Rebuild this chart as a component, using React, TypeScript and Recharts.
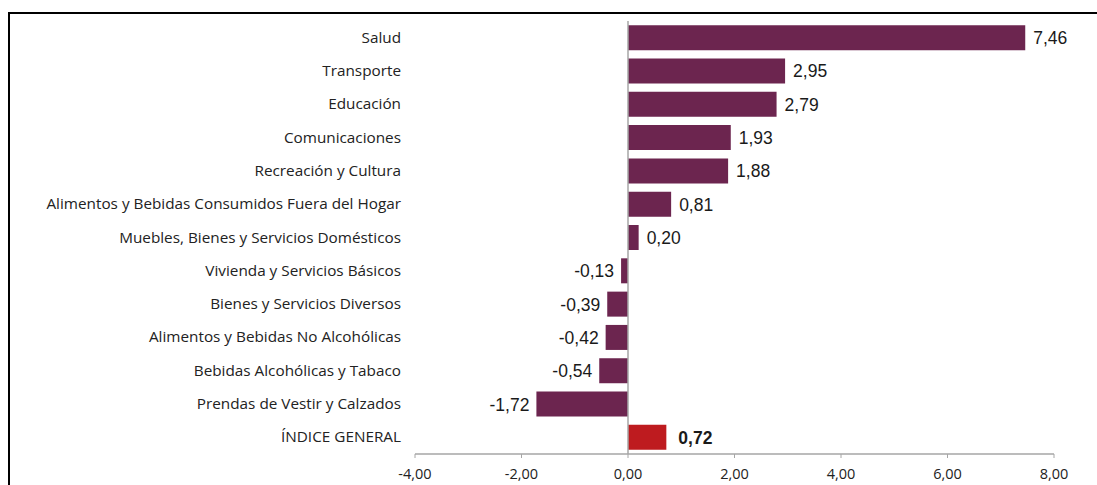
import React from "react";
import { BarChart, Bar, XAxis, YAxis, Cell, LabelList, ReferenceLine } from "recharts";

const categories = [
  "Salud",
  "Transporte",
  "Educación",
  "Comunicaciones",
  "Recreación y Cultura",
  "Alimentos y Bebidas Consumidos Fuera del Hogar",
  "Muebles, Bienes y Servicios Domésticos",
  "Vivienda y Servicios Básicos",
  "Bienes y Servicios Diversos",
  "Alimentos y Bebidas No Alcohólicas",
  "Bebidas Alcohólicas y Tabaco",
  "Prendas de Vestir y Calzados",
  "ÍNDICE GENERAL",
];
const values = [7.46, 2.95, 2.79, 1.93, 1.88, 0.81, 0.2, -0.13, -0.39, -0.42, -0.54, -1.72, 0.72];
const xTicks = [-4, -2, 0, 2, 4, 6, 8];

const data = categories.map((name, i) => ({ name, value: values[i] }));

const BAR = "#6C254F";
const TOTAL = "#BE1B1F";
const fmt = (v: number) => v.toFixed(2).replace(".", ",");

const CatTick = (props: any) => {
  const { x, y, payload } = props;
  return (
    <text x={x} y={y} dy={5} textAnchor="end" fontFamily="'Open Sans', sans-serif" fontSize={15.3} fill="#222">
      {payload.value}
    </text>
  );
};

const ValueLabel = (props: any) => {
  const { x, y, width, height, value, index } = props;
  const left = Math.min(x, x + width);
  const right = Math.max(x, x + width);
  const isTotal = index === categories.length - 1;
  const neg = value < 0;
  const tx = neg ? left - 7 : right + (isTotal ? 12 : 8);
  return (
    <text
      x={tx}
      y={y + height / 2}
      dy={6.5}
      textAnchor={neg ? "end" : "start"}
      fontFamily="'Liberation Sans', Arial, sans-serif"
      fontSize={17.5}
      fontWeight={isTotal ? "bold" : "normal"}
      fill="#1a1a1a"
    >
      {fmt(value)}
    </text>
  );
};

export default function App() {
  return (
    <div style={{ position: "absolute", left: 0, top: 0, width: 1097, height: 485, overflow: "hidden", background: "#fff" }}>
      <div
        style={{
          position: "absolute",
          left: 8,
          top: 12,
          width: 1089,
          height: 473,
          borderTop: "2px solid #000",
          borderLeft: "2px solid #000",
          boxSizing: "border-box",
        }}
      />
      <div style={{ position: "absolute", left: 0, top: 0 }}>
        <BarChart
          width={1097}
          height={485}
          data={data}
          layout="vertical"
          margin={{ top: 21, right: 43, bottom: 0, left: 15 }}
          barCategoryGap="12.5%"
        >
          <XAxis
            type="number"
            domain={[-4, 8]}
            ticks={xTicks}
            tickFormatter={(v: number) => fmt(v)}
            axisLine={{ stroke: "#a6a6a6", strokeWidth: 1.5 }}
            tickLine={{ stroke: "#a6a6a6" }}
            tickSize={4}
            tickMargin={11}
            height={31}
            tick={{ fontFamily: "'Open Sans', sans-serif", fontSize: 14.5, fill: "#222" }}
            allowDataOverflow
          />
          <YAxis
            type="category"
            dataKey="name"
            width={400}
            axisLine={false}
            tickLine={false}
            tickSize={0}
            tickMargin={14}
            tick={<CatTick />}
            interval={0}
          />
          <ReferenceLine x={0} stroke="#a6a6a6" strokeWidth={1.5} ifOverflow="extendDomain" />
          <Bar dataKey="value" isAnimationActive={false}>
            {data.map((d, i) => (
              <Cell key={d.name} fill={i === data.length - 1 ? TOTAL : BAR} />
            ))}
            <LabelList dataKey="value" content={<ValueLabel />} />
          </Bar>
        </BarChart>
      </div>
    </div>
  );
}
